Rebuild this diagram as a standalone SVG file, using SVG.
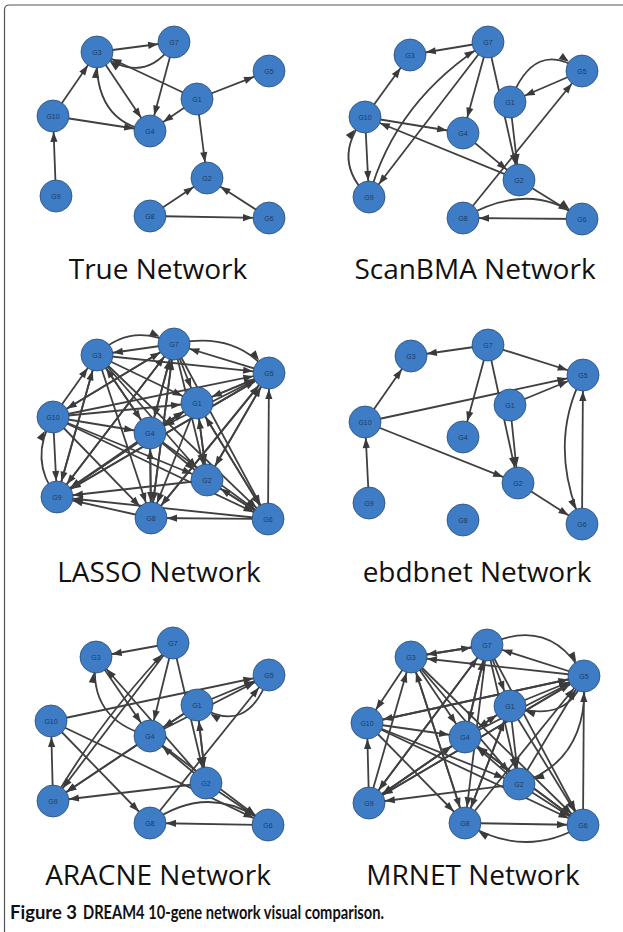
<svg xmlns="http://www.w3.org/2000/svg" width="623" height="932" viewBox="0 0 623 932">
<style>
.e{stroke:#404040;stroke-width:1.8;fill:none;marker-end:url(#a)}
.n circle{fill:#3e7dc5;stroke:#2b4d73;stroke-width:0.8}
.n text{font-family:"Liberation Sans",Arial,sans-serif;font-size:7px;fill:#1b3a66;text-anchor:middle}
.t{font-family:"Open Sans",sans-serif;font-size:28px;fill:#111;text-anchor:middle}
.cap{font-family:Lato,"Open Sans",sans-serif;font-size:19px;fill:#111}
</style>
<defs>
<marker id="a" markerUnits="userSpaceOnUse" markerWidth="40" markerHeight="20" viewBox="0 -10 40 20" refX="26" refY="0" orient="auto" overflow="visible">
<path d="M0,-3.6 L10,0 L0,3.6 z" fill="#3a3a3a"/>
</marker>
</defs>
<rect width="623" height="932" fill="#fff"/>
<path d="M4.5,932 V10 Q4.5,5 9.5,5 H623" fill="none" stroke="#555" stroke-width="1.2"/>

<!-- Panel 1: True Network -->
<g id="p1-connectors">
<line class="e" x1="97" y1="52" x2="174" y2="42"/>
<path class="e" d="M174,42 Q145,88 97,52"/>
<line class="e" x1="197" y1="99" x2="97" y2="52"/>
<line class="e" x1="174" y1="42" x2="150" y2="131"/>
<line class="e" x1="97" y1="52" x2="150" y2="131"/>
<path class="e" d="M150,131 Q93,122 97,52"/>
<line class="e" x1="53" y1="116" x2="97" y2="52"/>
<line class="e" x1="53" y1="116" x2="150" y2="131"/>
<line class="e" x1="197" y1="99" x2="150" y2="131"/>
<line class="e" x1="197" y1="99" x2="269" y2="71"/>
<line class="e" x1="197" y1="99" x2="207" y2="178"/>
<line class="e" x1="56" y1="196" x2="53" y2="116"/>
<line class="e" x1="150" y1="216" x2="207" y2="178"/>
<line class="e" x1="150" y1="216" x2="269" y2="218"/>
<line class="e" x1="269" y1="218" x2="207" y2="178"/>
</g>
<g id="p1-G3" class="n"><circle cx="97" cy="52" r="16"/><text x="97" y="54.5">G3</text></g>
<g id="p1-G7" class="n"><circle cx="174" cy="42" r="16"/><text x="174" y="44.5">G7</text></g>
<g id="p1-G5" class="n"><circle cx="269" cy="71" r="16"/><text x="269" y="73.5">G5</text></g>
<g id="p1-G1" class="n"><circle cx="197" cy="99" r="16"/><text x="197" y="101.5">G1</text></g>
<g id="p1-G10" class="n"><circle cx="53" cy="116" r="16"/><text x="53" y="118.5">G10</text></g>
<g id="p1-G4" class="n"><circle cx="150" cy="131" r="16"/><text x="150" y="133.5">G4</text></g>
<g id="p1-G2" class="n"><circle cx="207" cy="178" r="16"/><text x="207" y="180.5">G2</text></g>
<g id="p1-G9" class="n"><circle cx="56" cy="196" r="16"/><text x="56" y="198.5">G9</text></g>
<g id="p1-G8" class="n"><circle cx="150" cy="216" r="16"/><text x="150" y="218.5">G8</text></g>
<g id="p1-G6" class="n"><circle cx="269" cy="218" r="16"/><text x="269" y="220.5">G6</text></g>
<text class="t" x="158" y="279">True Network</text>

<!-- Panel 2: ScanBMA Network -->
<g id="p2-connectors">
<line class="e" x1="488" y1="42" x2="410" y2="55"/>
<line class="e" x1="365" y1="117" x2="410" y2="55"/>
<line class="e" x1="365" y1="117" x2="463" y2="133"/>
<line class="e" x1="365" y1="117" x2="369" y2="197"/>
<path class="e" d="M369,197 Q330,160 365,117"/>
<path class="e" d="M369,197 Q395,100 488,42"/>
<line class="e" x1="488" y1="42" x2="369" y2="197"/>
<line class="e" x1="488" y1="42" x2="463" y2="133"/>
<line class="e" x1="488" y1="42" x2="519" y2="180"/>
<line class="e" x1="510" y1="102" x2="519" y2="180"/>
<path class="e" d="M510,102 Q534,37 582,71"/>
<line class="e" x1="582" y1="71" x2="510" y2="102"/>
<line class="e" x1="463" y1="218" x2="582" y2="71"/>
<line class="e" x1="519" y1="180" x2="365" y2="117"/>
<line class="e" x1="463" y1="133" x2="519" y2="180"/>
<line class="e" x1="519" y1="180" x2="582" y2="219"/>
<path class="e" d="M463,218 Q531,179 582,219"/>
<line class="e" x1="582" y1="219" x2="463" y2="218"/>
</g>
<g id="p2-G7" class="n"><circle cx="488" cy="42" r="16"/><text x="488" y="44.5">G7</text></g>
<g id="p2-G3" class="n"><circle cx="410" cy="55" r="16"/><text x="410" y="57.5">G3</text></g>
<g id="p2-G5" class="n"><circle cx="582" cy="71" r="16"/><text x="582" y="73.5">G5</text></g>
<g id="p2-G1" class="n"><circle cx="510" cy="102" r="16"/><text x="510" y="104.5">G1</text></g>
<g id="p2-G10" class="n"><circle cx="365" cy="117" r="16"/><text x="365" y="119.5">G10</text></g>
<g id="p2-G4" class="n"><circle cx="463" cy="133" r="16"/><text x="463" y="135.5">G4</text></g>
<g id="p2-G2" class="n"><circle cx="519" cy="180" r="16"/><text x="519" y="182.5">G2</text></g>
<g id="p2-G9" class="n"><circle cx="369" cy="197" r="16"/><text x="369" y="199.5">G9</text></g>
<g id="p2-G8" class="n"><circle cx="463" cy="218" r="16"/><text x="463" y="220.5">G8</text></g>
<g id="p2-G6" class="n"><circle cx="582" cy="219" r="16"/><text x="582" y="221.5">G6</text></g>
<text class="t" x="475" y="279">ScanBMA Network</text>

<!-- Panel 3: LASSO Network -->
<g id="p3-connectors">
<path class="e" d="M97,355 Q130,322 174,344"/>
<path class="e" d="M174,344 Q235,330 269,373"/>
<path class="e" d="M57,497 Q28,460 53,417"/>
<line class="e" x1="53" y1="417" x2="97" y2="355"/>
<line class="e" x1="53" y1="417" x2="174" y2="344"/>
<line class="e" x1="53" y1="417" x2="269" y2="373"/>
<line class="e" x1="53" y1="417" x2="197" y2="403"/>
<line class="e" x1="53" y1="417" x2="150" y2="433"/>
<line class="e" x1="53" y1="417" x2="207" y2="480"/>
<line class="e" x1="53" y1="417" x2="151" y2="518"/>
<line class="e" x1="53" y1="417" x2="268" y2="519"/>
<line class="e" x1="53" y1="417" x2="57" y2="497"/>
<line class="e" x1="97" y1="355" x2="269" y2="373"/>
<line class="e" x1="97" y1="355" x2="150" y2="433"/>
<line class="e" x1="97" y1="355" x2="197" y2="403"/>
<line class="e" x1="97" y1="355" x2="207" y2="480"/>
<line class="e" x1="97" y1="355" x2="151" y2="518"/>
<line class="e" x1="97" y1="355" x2="268" y2="519"/>
<line class="e" x1="97" y1="355" x2="57" y2="497"/>
<line class="e" x1="174" y1="344" x2="97" y2="355"/>
<line class="e" x1="174" y1="344" x2="150" y2="433"/>
<line class="e" x1="174" y1="344" x2="197" y2="403"/>
<line class="e" x1="174" y1="344" x2="207" y2="480"/>
<line class="e" x1="174" y1="344" x2="151" y2="518"/>
<line class="e" x1="174" y1="344" x2="57" y2="497"/>
<line class="e" x1="174" y1="344" x2="268" y2="519"/>
<line class="e" x1="174" y1="344" x2="53" y2="417"/>
<line class="e" x1="269" y1="373" x2="174" y2="344"/>
<line class="e" x1="269" y1="373" x2="197" y2="403"/>
<line class="e" x1="269" y1="373" x2="150" y2="433"/>
<line class="e" x1="269" y1="373" x2="57" y2="497"/>
<line class="e" x1="269" y1="373" x2="151" y2="518"/>
<line class="e" x1="269" y1="373" x2="207" y2="480"/>
<line class="e" x1="197" y1="403" x2="269" y2="373"/>
<line class="e" x1="197" y1="403" x2="150" y2="433"/>
<line class="e" x1="197" y1="403" x2="207" y2="480"/>
<line class="e" x1="197" y1="403" x2="268" y2="519"/>
<line class="e" x1="197" y1="403" x2="151" y2="518"/>
<line class="e" x1="197" y1="403" x2="57" y2="497"/>
<line class="e" x1="150" y1="433" x2="174" y2="344"/>
<line class="e" x1="150" y1="433" x2="197" y2="403"/>
<line class="e" x1="150" y1="433" x2="207" y2="480"/>
<line class="e" x1="150" y1="433" x2="268" y2="519"/>
<line class="e" x1="150" y1="433" x2="151" y2="518"/>
<line class="e" x1="150" y1="433" x2="57" y2="497"/>
<line class="e" x1="150" y1="433" x2="97" y2="355"/>
<line class="e" x1="207" y1="480" x2="57" y2="497"/>
<line class="e" x1="207" y1="480" x2="197" y2="403"/>
<line class="e" x1="207" y1="480" x2="268" y2="519"/>
<line class="e" x1="207" y1="480" x2="269" y2="373"/>
<line class="e" x1="151" y1="518" x2="57" y2="497"/>
<line class="e" x1="151" y1="518" x2="174" y2="344"/>
<line class="e" x1="151" y1="518" x2="150" y2="433"/>
<line class="e" x1="151" y1="518" x2="269" y2="373"/>
<line class="e" x1="268" y1="519" x2="151" y2="518"/>
<line class="e" x1="268" y1="519" x2="57" y2="497"/>
<line class="e" x1="268" y1="519" x2="207" y2="480"/>
<line class="e" x1="268" y1="519" x2="197" y2="403"/>
<line class="e" x1="268" y1="519" x2="269" y2="373"/>
<line class="e" x1="57" y1="497" x2="97" y2="355"/>
<line class="e" x1="57" y1="497" x2="174" y2="344"/>
<line class="e" x1="57" y1="497" x2="197" y2="403"/>
<line class="e" x1="57" y1="497" x2="269" y2="373"/>
</g>
<g id="p3-G3" class="n"><circle cx="97" cy="355" r="16"/><text x="97" y="357.5">G3</text></g>
<g id="p3-G7" class="n"><circle cx="174" cy="344" r="16"/><text x="174" y="346.5">G7</text></g>
<g id="p3-G5" class="n"><circle cx="269" cy="373" r="16"/><text x="269" y="375.5">G5</text></g>
<g id="p3-G1" class="n"><circle cx="197" cy="403" r="16"/><text x="197" y="405.5">G1</text></g>
<g id="p3-G10" class="n"><circle cx="53" cy="417" r="16"/><text x="53" y="419.5">G10</text></g>
<g id="p3-G4" class="n"><circle cx="150" cy="433" r="16"/><text x="150" y="435.5">G4</text></g>
<g id="p3-G2" class="n"><circle cx="207" cy="480" r="16"/><text x="207" y="482.5">G2</text></g>
<g id="p3-G9" class="n"><circle cx="57" cy="497" r="16"/><text x="57" y="499.5">G9</text></g>
<g id="p3-G8" class="n"><circle cx="151" cy="518" r="16"/><text x="151" y="520.5">G8</text></g>
<g id="p3-G6" class="n"><circle cx="268" cy="519" r="16"/><text x="268" y="521.5">G6</text></g>
<text class="t" x="159" y="582">LASSO Network</text>

<!-- Panel 4: ebdbnet Network -->
<g id="p4-connectors">
<line class="e" x1="488" y1="345" x2="411" y2="356"/>
<line class="e" x1="365" y1="422" x2="411" y2="356"/>
<line class="e" x1="488" y1="345" x2="583" y2="375"/>
<line class="e" x1="365" y1="422" x2="583" y2="375"/>
<line class="e" x1="510" y1="405" x2="583" y2="375"/>
<line class="e" x1="488" y1="345" x2="463" y2="437"/>
<line class="e" x1="488" y1="345" x2="518" y2="483"/>
<line class="e" x1="510" y1="405" x2="518" y2="483"/>
<line class="e" x1="365" y1="422" x2="518" y2="483"/>
<line class="e" x1="518" y1="483" x2="582" y2="524"/>
<path class="e" d="M583,375 Q547,444 582,524"/>
<line class="e" x1="582" y1="524" x2="583" y2="375"/>
<line class="e" x1="369" y1="503" x2="365" y2="422"/>
</g>
<g id="p4-G7" class="n"><circle cx="488" cy="345" r="16"/><text x="488" y="347.5">G7</text></g>
<g id="p4-G3" class="n"><circle cx="411" cy="356" r="16"/><text x="411" y="358.5">G3</text></g>
<g id="p4-G5" class="n"><circle cx="583" cy="375" r="16"/><text x="583" y="377.5">G5</text></g>
<g id="p4-G1" class="n"><circle cx="510" cy="405" r="16"/><text x="510" y="407.5">G1</text></g>
<g id="p4-G10" class="n"><circle cx="365" cy="422" r="16"/><text x="365" y="424.5">G10</text></g>
<g id="p4-G4" class="n"><circle cx="463" cy="437" r="16"/><text x="463" y="439.5">G4</text></g>
<g id="p4-G2" class="n"><circle cx="518" cy="483" r="16"/><text x="518" y="485.5">G2</text></g>
<g id="p4-G9" class="n"><circle cx="369" cy="503" r="16"/><text x="369" y="505.5">G9</text></g>
<g id="p4-G8" class="n"><circle cx="463" cy="520" r="16"/><text x="463" y="522.5">G8</text></g>
<g id="p4-G6" class="n"><circle cx="582" cy="524" r="16"/><text x="582" y="526.5">G6</text></g>
<text class="t" x="477" y="582">ebdbnet Network</text>

<!-- Panel 5: ARACNE Network -->
<g id="p5-connectors">
<line class="e" x1="173" y1="643" x2="96" y2="657"/>
<path class="e" d="M53,801 Q100,720 173,643"/>
<line class="e" x1="173" y1="643" x2="53" y2="801"/>
<line class="e" x1="173" y1="643" x2="150" y2="736"/>
<line class="e" x1="173" y1="643" x2="206" y2="783"/>
<line class="e" x1="96" y1="657" x2="150" y2="736"/>
<path class="e" d="M150,736 Q87,720 96,657"/>
<line class="e" x1="206" y1="783" x2="96" y2="657"/>
<line class="e" x1="51" y1="721" x2="269" y2="675"/>
<line class="e" x1="197" y1="705" x2="269" y2="675"/>
<line class="e" x1="150" y1="736" x2="269" y2="675"/>
<path class="e" d="M269,675 Q248,738 197,705"/>
<line class="e" x1="150" y1="823" x2="269" y2="675"/>
<line class="e" x1="197" y1="705" x2="150" y2="736"/>
<line class="e" x1="150" y1="736" x2="53" y2="801"/>
<line class="e" x1="197" y1="705" x2="53" y2="801"/>
<line class="e" x1="51" y1="721" x2="150" y2="823"/>
<line class="e" x1="51" y1="721" x2="268" y2="825"/>
<line class="e" x1="53" y1="801" x2="51" y2="721"/>
<line class="e" x1="206" y1="783" x2="53" y2="801"/>
<line class="e" x1="206" y1="783" x2="197" y2="705"/>
<line class="e" x1="197" y1="705" x2="206" y2="783"/>
<line class="e" x1="206" y1="783" x2="150" y2="736"/>
<line class="e" x1="150" y1="736" x2="268" y2="825"/>
<line class="e" x1="206" y1="783" x2="268" y2="825"/>
<path class="e" d="M150,823 Q210,780 268,825"/>
<line class="e" x1="268" y1="825" x2="150" y2="823"/>
</g>
<g id="p5-G7" class="n"><circle cx="173" cy="643" r="16"/><text x="173" y="645.5">G7</text></g>
<g id="p5-G3" class="n"><circle cx="96" cy="657" r="16"/><text x="96" y="659.5">G3</text></g>
<g id="p5-G5" class="n"><circle cx="269" cy="675" r="16"/><text x="269" y="677.5">G5</text></g>
<g id="p5-G1" class="n"><circle cx="197" cy="705" r="16"/><text x="197" y="707.5">G1</text></g>
<g id="p5-G10" class="n"><circle cx="51" cy="721" r="16"/><text x="51" y="723.5">G10</text></g>
<g id="p5-G4" class="n"><circle cx="150" cy="736" r="16"/><text x="150" y="738.5">G4</text></g>
<g id="p5-G2" class="n"><circle cx="206" cy="783" r="16"/><text x="206" y="785.5">G2</text></g>
<g id="p5-G9" class="n"><circle cx="53" cy="801" r="16"/><text x="53" y="803.5">G9</text></g>
<g id="p5-G8" class="n"><circle cx="150" cy="823" r="16"/><text x="150" y="825.5">G8</text></g>
<g id="p5-G6" class="n"><circle cx="268" cy="825" r="16"/><text x="268" y="827.5">G6</text></g>
<text class="t" x="158" y="885">ARACNE Network</text>

<!-- Panel 6: MRNET Network -->
<g id="p6-connectors">
<path class="e" d="M487,645 Q550,615 584,676"/>
<path class="e" d="M583,825 Q525,860 465,823"/>
<path class="e" d="M584,676 Q590,760 519,784"/>
<path class="e" d="M584,676 Q570,725 510,706"/>
<line class="e" x1="411" y1="657" x2="487" y2="645"/>
<line class="e" x1="487" y1="645" x2="411" y2="657"/>
<line class="e" x1="584" y1="676" x2="487" y2="645"/>
<line class="e" x1="584" y1="676" x2="411" y2="657"/>
<line class="e" x1="411" y1="657" x2="367" y2="723"/>
<line class="e" x1="584" y1="676" x2="367" y2="723"/>
<line class="e" x1="367" y1="723" x2="584" y2="676"/>
<line class="e" x1="369" y1="803" x2="367" y2="723"/>
<line class="e" x1="583" y1="825" x2="584" y2="676"/>
<line class="e" x1="465" y1="823" x2="583" y2="825"/>
<line class="e" x1="519" y1="784" x2="369" y2="803"/>
<line class="e" x1="369" y1="803" x2="487" y2="645"/>
<line class="e" x1="369" y1="803" x2="411" y2="657"/>
<line class="e" x1="369" y1="803" x2="584" y2="676"/>
<line class="e" x1="369" y1="803" x2="510" y2="706"/>
<line class="e" x1="369" y1="803" x2="465" y2="737"/>
<line class="e" x1="367" y1="723" x2="465" y2="737"/>
<line class="e" x1="367" y1="723" x2="519" y2="784"/>
<line class="e" x1="367" y1="723" x2="583" y2="825"/>
<line class="e" x1="367" y1="723" x2="465" y2="823"/>
<line class="e" x1="411" y1="657" x2="465" y2="737"/>
<line class="e" x1="411" y1="657" x2="519" y2="784"/>
<line class="e" x1="411" y1="657" x2="583" y2="825"/>
<line class="e" x1="411" y1="657" x2="465" y2="823"/>
<line class="e" x1="487" y1="645" x2="465" y2="737"/>
<line class="e" x1="487" y1="645" x2="519" y2="784"/>
<line class="e" x1="487" y1="645" x2="510" y2="706"/>
<line class="e" x1="487" y1="645" x2="465" y2="823"/>
<line class="e" x1="487" y1="645" x2="369" y2="803"/>
<line class="e" x1="487" y1="645" x2="583" y2="825"/>
<line class="e" x1="510" y1="706" x2="584" y2="676"/>
<line class="e" x1="510" y1="706" x2="583" y2="825"/>
<line class="e" x1="510" y1="706" x2="465" y2="737"/>
<line class="e" x1="510" y1="706" x2="465" y2="823"/>
<line class="e" x1="510" y1="706" x2="519" y2="784"/>
<line class="e" x1="465" y1="737" x2="583" y2="825"/>
<line class="e" x1="465" y1="737" x2="584" y2="676"/>
<line class="e" x1="465" y1="737" x2="487" y2="645"/>
<line class="e" x1="465" y1="737" x2="369" y2="803"/>
<line class="e" x1="519" y1="784" x2="583" y2="825"/>
<line class="e" x1="519" y1="784" x2="465" y2="737"/>
<line class="e" x1="519" y1="784" x2="584" y2="676"/>
<line class="e" x1="465" y1="823" x2="411" y2="657"/>
<line class="e" x1="465" y1="823" x2="584" y2="676"/>
<line class="e" x1="465" y1="823" x2="510" y2="706"/>
<line class="e" x1="583" y1="825" x2="465" y2="737"/>
<line class="e" x1="584" y1="676" x2="369" y2="803"/>
</g>
<g id="p6-G7" class="n"><circle cx="487" cy="645" r="16"/><text x="487" y="647.5">G7</text></g>
<g id="p6-G3" class="n"><circle cx="411" cy="657" r="16"/><text x="411" y="659.5">G3</text></g>
<g id="p6-G5" class="n"><circle cx="584" cy="676" r="16"/><text x="584" y="678.5">G5</text></g>
<g id="p6-G1" class="n"><circle cx="510" cy="706" r="16"/><text x="510" y="708.5">G1</text></g>
<g id="p6-G10" class="n"><circle cx="367" cy="723" r="16"/><text x="367" y="725.5">G10</text></g>
<g id="p6-G4" class="n"><circle cx="465" cy="737" r="16"/><text x="465" y="739.5">G4</text></g>
<g id="p6-G2" class="n"><circle cx="519" cy="784" r="16"/><text x="519" y="786.5">G2</text></g>
<g id="p6-G9" class="n"><circle cx="369" cy="803" r="16"/><text x="369" y="805.5">G9</text></g>
<g id="p6-G8" class="n"><circle cx="465" cy="823" r="16"/><text x="465" y="825.5">G8</text></g>
<g id="p6-G6" class="n"><circle cx="583" cy="825" r="16"/><text x="583" y="827.5">G6</text></g>
<text class="t" x="473" y="885">MRNET Network</text>

<text class="cap" x="10" y="919" font-weight="700" textLength="67" lengthAdjust="spacingAndGlyphs">Figure 3</text>
<text class="cap" x="83" y="919" font-weight="700" textLength="301" lengthAdjust="spacingAndGlyphs">DREAM4 10-gene network visual comparison.</text>
</svg>
